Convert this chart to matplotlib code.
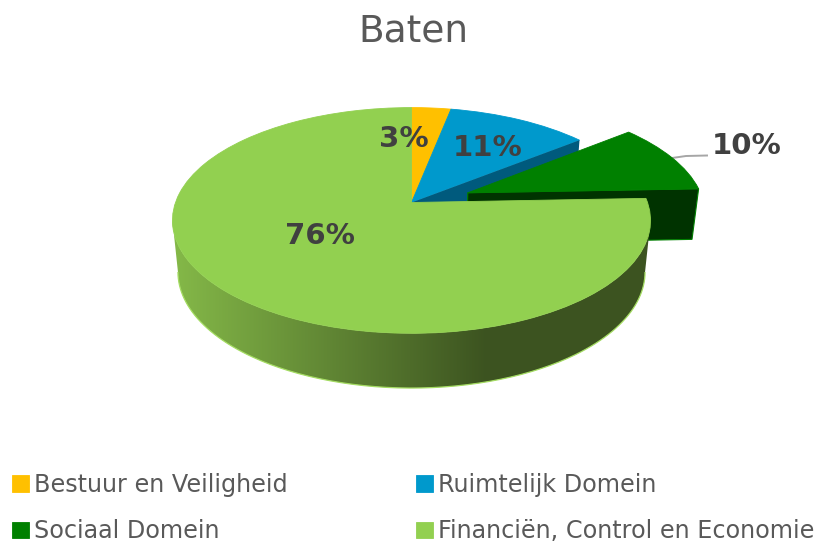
import numpy as np
import matplotlib
matplotlib.use("Agg")
import matplotlib.pyplot as plt
from matplotlib.path import Path
from matplotlib.patches import Polygon
from matplotlib.transforms import Transform

title = "Baten"
names = ["Bestuur en Veiligheid", "Ruimtelijk Domein", "Sociaal Domein", "Financiën, Control en Economie"]
values = [3.1, 11.2, 10.1, 75.6]
explode = [0, 0, 0.258, 0]
colors = ["#FFC000", "#0099CC", "#008000", "#92D050"]
label_pos = [(404, 139), (488, 148), (747, 146), (320, 236)]

# perspective of the unit disk, in picture pixels
CX, CY = 411.5, 202.5
A, B, K = 236, 110, 0.159
DEPTH = 51


def project(x, y, bottom=False):
    w = 1 + K * y
    if bottom:
        return CX + 0.977 * A * x / w, CY + (DEPTH - 0.955 * B * y) / w
    return CX + A * x / w, CY - B * y / w


class Persp(Transform):
    input_dims = 2
    output_dims = 2

    def transform_non_affine(self, xy):
        xy = np.asarray(xy, dtype=float)
        sx, sy = project(xy[:, 0], xy[:, 1])
        return np.column_stack([sx, sy])


def radial_face(wedge):
    # cut side of a slice, at the clockwise end
    cx, cy = wedge.center
    t = np.radians(wedge.theta1)
    ex, ey = cx + np.cos(t), cy + np.sin(t)
    return [project(cx, cy), project(ex, ey), project(ex, ey, True), project(cx, cy, True)]


fig = plt.figure(figsize=(8.24, 5.42), dpi=100)
ax = fig.add_axes([0, 0, 1, 1])

wedges, _ = ax.pie(values, explode=explode, colors=colors, startangle=90, counterclock=False,
                   wedgeprops={"linewidth": 0.6})
to_pixels = Persp() + ax.transData
for w, z, c in zip(wedges, [2, 2, 5, 7], colors):
    w.set_transform(to_pixels)
    w.set_zorder(z)
    w.set_edgecolor(c)

# cut faces that show next to the pulled out slice
ax.add_patch(Polygon(radial_face(wedges[1]), closed=True, fc="#005A7D", ec="none", zorder=3))
ax.add_patch(Polygon(radial_face(wedges[2]), closed=True, fc="#003300", ec="#008000", lw=0.8, zorder=4))

# outer wall of the big slice with its gradient, between the widest points of the ellipse
edge = np.degrees(np.arcsin(K))
t = np.radians(np.linspace(-180 + edge, -edge, 200))
top = np.column_stack(project(np.cos(t), np.sin(t)))
low = np.column_stack(project(np.cos(t), np.sin(t), True))
wall = np.vstack([top, low[::-1]])

xs = np.arange(824)
frac = np.clip((xs - 175) / (487 - 175), 0, 1)
light = np.array([0x84, 0xB8, 0x48]) / 255
dark = np.array([0x3C, 0x53, 0x20]) / 255
grad = (light[None, :] * (1 - frac)[:, None] + dark[None, :] * frac[:, None])[None, :, :]
im = ax.imshow(grad, extent=(0, 824, 542, 0), aspect="auto", zorder=6)
im.set_clip_path(Path(np.vstack([wall, wall[:1]])), ax.transData)
ax.add_patch(Polygon(low, closed=False, fill=False, ec="#A4DC62", lw=0.9, zorder=6))

ax.set_aspect("auto")
ax.set_xlim(0, 824)
ax.set_ylim(542, 0)
ax.axis("off")

ax.text(413, 31, title, ha="center", va="center", fontsize=27, color="#595959")
for v, (x, y) in zip(values, label_pos):
    ax.text(x, y, f"{v:.0f}%", ha="center", va="center", fontsize=21, fontweight="bold",
            color="#404040", zorder=9)

# leader line of the pulled out slice
ax.plot([672, 686, 707], [158, 156, 155.5], color="#A6A6A6", lw=1.4, zorder=1)

# legend fills by column, the picture reads by row
order = [0, 2, 1, 3]
ax.legend([wedges[i] for i in order], [names[i] for i in order], ncol=2, loc="upper left",
          bbox_to_anchor=(0.0146, 0.127), bbox_transform=fig.transFigure, frameon=False,
          fontsize=17.2, labelcolor="#595959", handlelength=0.71, handleheight=0.71,
          handletextpad=0.2, columnspacing=5.4, labelspacing=0.93, borderpad=0, borderaxespad=0)

plt.savefig("out.png", dpi=100)
